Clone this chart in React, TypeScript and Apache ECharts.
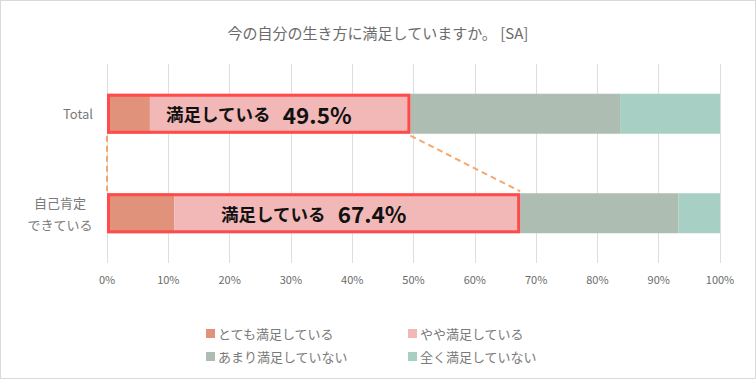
import React, { useEffect, useRef } from "react";
import * as echarts from "echarts";

const categories = ["Total", "自己肯定\nできている"];
const seriesNames = ["とても満足している", "やや満足している", "あまり満足していない", "全く満足していない"];
const verySatisfied = [7.0, 11.0];
const somewhatSatisfied = [42.5, 56.4];
const notVerySatisfied = [34.2, 25.8];
const notAtAllSatisfied = [16.3, 6.8];
const satisfiedTotals = [49.5, 67.4];
const xTicks = [0, 10, 20, 30, 40, 50, 60, 70, 80, 90, 100];

const colors = ["#E0937A", "#F2B8B8", "#ADBDB2", "#A8CFC4"];
const FONT = "'Noto Sans CJK JP', 'Noto Sans', sans-serif";

export default function App() {
  const ref = useRef<HTMLDivElement>(null);
  useEffect(() => {
    if (!ref.current) return;
    const chart = echarts.init(ref.current, undefined, { renderer: "svg" });
    const values = [verySatisfied, somewhatSatisfied, notVerySatisfied, notAtAllSatisfied];
    const barSeries = seriesNames.map((name, i) => ({
      name,
      type: "bar",
      stack: "total",
      barWidth: "40%",
      barGap: "-100%",
      itemStyle: { color: colors[i] },
      data: values[i],
      z: 2,
    }));
    const legendPos = [
      { left: 201, top: 322 },
      { left: 403, top: 322 },
      { left: 201, top: 345 },
      { left: 403, top: 345 },
    ];
    chart.setOption({
      animation: false,
      textStyle: { fontFamily: FONT },
      title: {
        text: "今の自分の生き方に満足していますか。 [SA]",
        left: "center",
        top: 20,
        textStyle: { fontSize: 15, fontWeight: "normal", color: "#6b6b6b", fontFamily: FONT },
      },
      legend: seriesNames.map((n, i) => ({
        data: [n],
        left: legendPos[i].left,
        top: legendPos[i].top,
        icon: "rect",
        itemWidth: 9,
        itemHeight: 9,
        itemGap: 4,
        selectedMode: false,
        textStyle: { fontSize: 13, color: "#7a7a7a", fontFamily: FONT, padding: [0, 0, 0, -2] },
      })),
      grid: { left: 107, right: 36, top: 64, bottom: 116, containLabel: false },
      xAxis: {
        type: "value",
        min: xTicks[0],
        max: xTicks[xTicks.length - 1],
        interval: xTicks[1] - xTicks[0],
        axisLine: { show: false },
        axisTick: { show: false },
        splitLine: { lineStyle: { color: "#dedede", width: 1 } },
        axisLabel: { formatter: "{value}%", color: "#6b6b6b", fontSize: 11, margin: 10, fontFamily: FONT },
      },
      yAxis: {
        type: "category",
        inverse: true,
        data: categories,
        axisLine: { show: false },
        axisTick: { show: false },
        axisLabel: {
          color: "#7a7a7a",
          fontSize: 13,
          lineHeight: 22,
          margin: 14,
          fontFamily: FONT,
          formatter: (v: string) =>
            v.includes("\n") ? v.split("\n").map((s) => `{c|${s}}`).join("\n") : v,
          rich: {
            c: { width: 66, align: "center", fontSize: 13, lineHeight: 22, color: "#7a7a7a", fontFamily: FONT },
          },
        },
      },
      series: [
        ...barSeries,
        {
          name: "満足している",
          type: "bar",
          barWidth: "40%",
          barGap: "-100%",
          z: 5,
          itemStyle: { color: "rgba(0,0,0,0)", borderColor: "#FF4B4B", borderWidth: 3 },
          label: {
            show: true,
            position: "inside",
            formatter: (p: any) => `{a|満足している}{s|}{b|${p.value}%}`,
            rich: {
              a: { fontSize: 17.5, fontWeight: "bold", color: "#111", fontFamily: FONT },
              s: { width: 12 },
              b: { fontSize: 22.5, fontWeight: "bold", color: "#111", fontFamily: FONT },
            },
          },
          data: satisfiedTotals,
        },
        {
          type: "custom",
          z: 4,
          silent: true,
          data: [[0, 0]],
          renderItem: (params: any, api: any) => {
            const band = api.size([0, 1])[1];
            const half = (band * 0.4) / 2;
            const a0 = api.coord([0, 0]);
            const a1 = api.coord([0, 1]);
            const b0 = api.coord([satisfiedTotals[0], 0]);
            const b1 = api.coord([satisfiedTotals[1], 1]);
            const style = { stroke: "#F5A86E", lineWidth: 2, lineDash: [6, 4] };
            return {
              type: "group",
              children: [
                { type: "line", shape: { x1: a0[0], y1: a0[1] + half + 2, x2: a1[0], y2: a1[1] - half - 2 }, style },
                { type: "line", shape: { x1: b0[0], y1: b0[1] + half + 2, x2: b1[0], y2: b1[1] - half - 2 }, style },
              ],
            };
          },
        },
      ],
    });
    return () => chart.dispose();
  }, []);
  return (
    <div
      style={{
        position: "fixed",
        left: 0,
        top: 0,
        width: 756,
        height: 379,
        boxSizing: "border-box",
        border: "1px solid #d9d9d9",
        background: "#fff",
      }}
    >
      <div ref={ref} style={{ position: "absolute", left: -1, top: -1, width: 756, height: 379 }} />
    </div>
  );
}
